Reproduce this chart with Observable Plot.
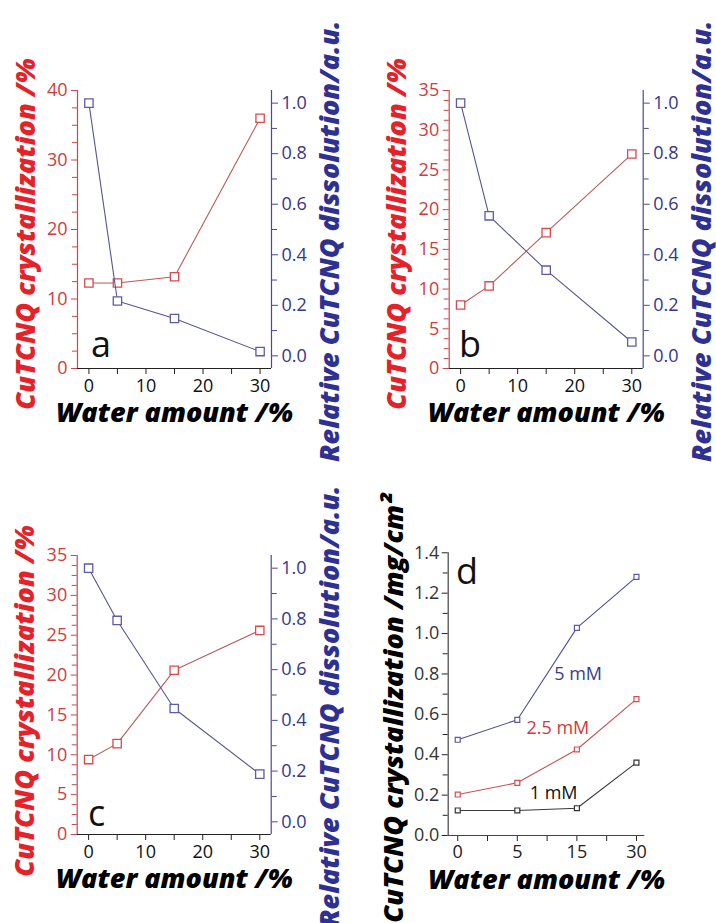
<!DOCTYPE html>
<html>
<head>
<meta charset="utf-8">
<script src="https://cdn.jsdelivr.net/npm/d3@7"></script>
<script src="https://cdn.jsdelivr.net/npm/@observablehq/plot@0.6"></script>
<style>
  html, body { margin: 0; padding: 0; background: #ffffff; }
  #fig { position: relative; width: 716px; height: 923px; overflow: hidden; background: #fff; }
  #fig svg { position: absolute; }
</style>
</head>
<body>
<div id="fig"></div>
<script>
// ---------- data ----------
const waterPct = [0, 5, 15, 30];
const xTicksABC = [0, 10, 20, 30];
const xMinorABC = [5, 15, 25];

const crystA = [12.3, 12.3, 13.2, 36.0];
const dissA  = [1.0, 0.217, 0.148, 0.017];
const crystB = [8.0, 10.4, 17.1, 27.0];
const dissB  = [1.0, 0.554, 0.339, 0.055];
const crystC = [9.4, 11.4, 20.6, 25.6];
const dissC  = [1.0, 0.794, 0.447, 0.188];

const concLabels = ["5 mM", "2.5 mM", "1 mM"];
const mass5mM  = [0.474, 0.573, 1.028, 1.281];
const mass25mM = [0.203, 0.261, 0.426, 0.675];
const mass1mM  = [0.124, 0.124, 0.135, 0.361];
// annotation anchors (data coordinates: x = category index, y = mg/cm²)
const concLabelX = [2.02, 1.68, 1.61];
const concLabelY = [0.80, 0.53, 0.21];

const panelLetters = ["a", "b", "c", "d"];
const titleX = "Water amount /%";
const titleLeft = "CuTCNQ crystallization /%";
const titleRight = "Relative CuTCNQ dissolution/a.u.";
const titleLeftD = "CuTCNQ crystallization /mg/cm²";

// ---------- styles ----------
const RED_AXIS = "#c9474a", RED_TEXT = "#cf3b40", RED_TITLE = "#e5212a";
const RED_LINE = "#b95a5a", RED_MARK = "#d84a4c";
const BLUE_AXIS = "#4a4b8f", BLUE_TEXT = "#343789", BLUE_TITLE = "#2e3192";
const BLUE_LINE = "#56568f", BLUE_MARK = "#5c5ca8";
const DARK = "#222";
const TICK_FONT = "'Open Sans', 'Noto Sans', sans-serif";
const TICK_SIZE = 18;
const TITLE_STYLE = {fontWeight: 800, fontStyle: "italic", fontSize: 27};

const fig = document.getElementById("fig");
function place(svg, left, top) {
  svg.style.left = left + "px";
  svg.style.top = top + "px";
  fig.appendChild(svg);
}
const range = (a, b, s) => d3.range(a, b + s / 2, s);

function dualPanel(p) {
  const common = {
    width: p.W, height: p.H,
    marginLeft: p.ml, marginRight: p.mr, marginTop: p.mt, marginBottom: p.mb,
    style: {fontFamily: TICK_FONT, fontSize: TICK_SIZE + "px", background: "transparent", overflow: "visible"}
  };
  const xDom = [-2, 32];
  const left = Plot.plot({
    ...common,
    x: {domain: xDom, label: null},
    y: {domain: [0, p.yMax], label: null},
    marks: [
      Plot.axisX(xTicksABC, {tickSize: 6, tickPadding: 5, stroke: DARK, fill: "#111", label: null,
        fontSize: TICK_SIZE, fontFamily: TICK_FONT}),
      Plot.axisX(xMinorABC, {tickSize: 6, fill: "none", stroke: DARK, label: null}),
      Plot.axisY(range(0, p.yMax, p.yStep), {anchor: "left", tickSize: 6, tickPadding: 4, stroke: RED_AXIS, fill: RED_TEXT, label: null,
        fontSize: TICK_SIZE, fontFamily: TICK_FONT}),
      Plot.axisY(range(p.yStep / 4, p.yMax, p.yStep / 4).filter(v => Math.abs(v / p.yStep - Math.round(v / p.yStep)) > 1e-6),
        {anchor: "left", tickSize: 5, fill: "none", stroke: RED_AXIS, label: null}),
      Plot.ruleX([xDom[0]], {stroke: RED_AXIS, strokeWidth: 1.2}),
      Plot.ruleY([0], {stroke: DARK, strokeWidth: 1.2}),
      Plot.line(waterPct, {x: d => d, y: (d, i) => p.cryst[i], stroke: RED_LINE, strokeWidth: 1.1}),
      Plot.dot(waterPct, {x: d => d, y: (d, i) => p.cryst[i], symbol: "square", r: 4.7, stroke: RED_MARK, strokeWidth: 1.3, fill: "white"}),
      Plot.text([p.letter], {x: p.letterX, y: p.letterY, text: d => d, textAnchor: "start", lineAnchor: "bottom",
        fontSize: 36, fill: "#111", fontFamily: TICK_FONT}),
      Plot.text([titleX], {frameAnchor: "bottom", text: d => d, lineAnchor: "middle", dy: p.xTitleDy,
        fill: "#000", ...TITLE_STYLE}),
      Plot.text([titleLeft], {frameAnchor: "top-left", text: d => d, rotate: -90, textAnchor: "end", lineAnchor: "middle",
        dx: p.lTitleDx, dy: p.lTitleDy, fill: RED_TITLE, ...TITLE_STYLE})
    ]
  });
  const right = Plot.plot({
    ...common,
    x: {domain: xDom, axis: null},
    y: {domain: [-0.05, 1.05], label: null},
    marks: [
      Plot.axisY(range(0, 1, 0.2), {anchor: "right", tickSize: 6, tickPadding: 4, stroke: BLUE_AXIS, fill: BLUE_TEXT,
        tickFormat: d3.format(".1f"), label: null, fontSize: TICK_SIZE, fontFamily: TICK_FONT}),
      Plot.axisY(range(0.1, 0.9, 0.2), {anchor: "right", tickSize: 5, fill: "none", stroke: BLUE_AXIS, label: null}),
      Plot.ruleX([xDom[1]], {stroke: BLUE_AXIS, strokeWidth: 1.2}),
      Plot.line(waterPct, {x: d => d, y: (d, i) => p.diss[i], stroke: BLUE_LINE, strokeWidth: 1.1}),
      Plot.dot(waterPct, {x: d => d, y: (d, i) => p.diss[i], symbol: "square", r: 4.7, stroke: BLUE_MARK, strokeWidth: 1.3, fill: "white"}),
      Plot.text([titleRight], {frameAnchor: "top-right", text: d => d, rotate: -90, textAnchor: "end", lineAnchor: "middle",
        dx: p.rTitleDx, dy: p.rTitleDy, fill: BLUE_TITLE, ...TITLE_STYLE})
    ]
  });
  place(left, p.left, p.top);
  place(right, p.left, p.top);
}

dualPanel({left: 0, top: 0, W: 358, H: 460, ml: 77, mr: 87, mt: 90, mb: 92,
  yMax: 40, yStep: 10, cryst: crystA, diss: dissA, letter: panelLetters[0], letterX: 0.35, letterY: 1.7,
  xTitleDy: 45, lTitleDx: -51, lTitleDy: -32, rTitleDx: 59, rTitleDy: -70});
dualPanel({left: 358, top: 0, W: 358, H: 460, ml: 90.7, mr: 73.3, mt: 90, mb: 92,
  yMax: 35, yStep: 5, cryst: crystB, diss: dissB, letter: panelLetters[1], letterX: -0.3, letterY: 1.5,
  xTitleDy: 45, lTitleDx: -52, lTitleDy: -32, rTitleDx: 59, rTitleDy: -70});
dualPanel({left: 0, top: 460, W: 358, H: 463, ml: 76.7, mr: 87.3, mt: 95, mb: 89,
  yMax: 35, yStep: 5, cryst: crystC, diss: dissC, letter: panelLetters[2], letterX: -0.1, letterY: 1.1,
  xTitleDy: 45, lTitleDx: -52, lTitleDy: -30, rTitleDx: 59, rTitleDy: -70});

// ---------- panel d ----------
(function () {
  const idx = waterPct.map((d, i) => i);
  const xDom = [-0.16, 3.14];
  const series = [
    {name: concLabels[0], values: mass5mM, line: "#4f4f98", mark: "#5a5aa8", text: "#3b3b8c"},
    {name: concLabels[1], values: mass25mM, line: "#c85050", mark: "#d84a4c", text: "#d2383c"},
    {name: concLabels[2], values: mass1mM, line: "#3a3a3a", mark: "#333", text: "#111"}
  ];
  const marks = [
    Plot.axisX(idx, {tickSize: 6, tickPadding: 4, stroke: DARK, fill: "#222", tickFormat: i => waterPct[i], label: null,
      fontSize: TICK_SIZE, fontFamily: TICK_FONT}),
    Plot.axisX([0.5, 1.5, 2.5], {tickSize: 6, fill: "none", stroke: DARK, label: null}),
    Plot.axisY(range(0, 1.4, 0.2), {anchor: "left", tickSize: 6, tickPadding: 3, stroke: DARK, fill: "#333",
      tickFormat: d3.format(".1f"), label: null, fontSize: TICK_SIZE, fontFamily: TICK_FONT}),
    Plot.axisY(range(0.1, 1.3, 0.2), {anchor: "left", tickSize: 5, fill: "none", stroke: DARK, label: null}),
    Plot.ruleX([xDom[0]], {stroke: "#444", strokeWidth: 1.2}),
    Plot.ruleY([0], {stroke: "#444", strokeWidth: 1.2})
  ];
  series.forEach((s, k) => {
    marks.push(Plot.line(idx, {x: d => d, y: i => s.values[i], stroke: s.line, strokeWidth: 1.1}));
    marks.push(Plot.dot(idx, {x: d => d, y: i => s.values[i], symbol: "square", r: 2.8, stroke: s.mark, strokeWidth: 1.2, fill: "white"}));
    marks.push(Plot.text([s.name], {x: concLabelX[k], y: concLabelY[k], text: d => d, fill: s.text, fontSize: 18, fontFamily: TICK_FONT}));
  });
  marks.push(Plot.text([panelLetters[3]], {x: -0.03, y: 1.246, text: d => d, textAnchor: "start", lineAnchor: "bottom",
    fontSize: 36, fill: "#111", fontFamily: TICK_FONT}));
  marks.push(Plot.text([titleX], {frameAnchor: "bottom", text: d => d, lineAnchor: "middle", dy: 45, fill: "#000", ...TITLE_STYLE}));
  marks.push(Plot.text([titleLeftD], {frameAnchor: "top-left", text: d => d, rotate: -90, textAnchor: "end", lineAnchor: "middle",
    dx: -54, dy: -59, fill: "#000", ...TITLE_STYLE}));
  const svg = Plot.plot({
    width: 358, height: 463, marginLeft: 89.7, marginRight: 71.7, marginTop: 92.3, marginBottom: 88,
    style: {fontFamily: TICK_FONT, fontSize: TICK_SIZE + "px", background: "transparent", overflow: "visible"},
    x: {domain: xDom, label: null},
    y: {domain: [0, 1.4], label: null},
    marks
  });
  place(svg, 358, 460);
})();
</script>
</body>
</html>
